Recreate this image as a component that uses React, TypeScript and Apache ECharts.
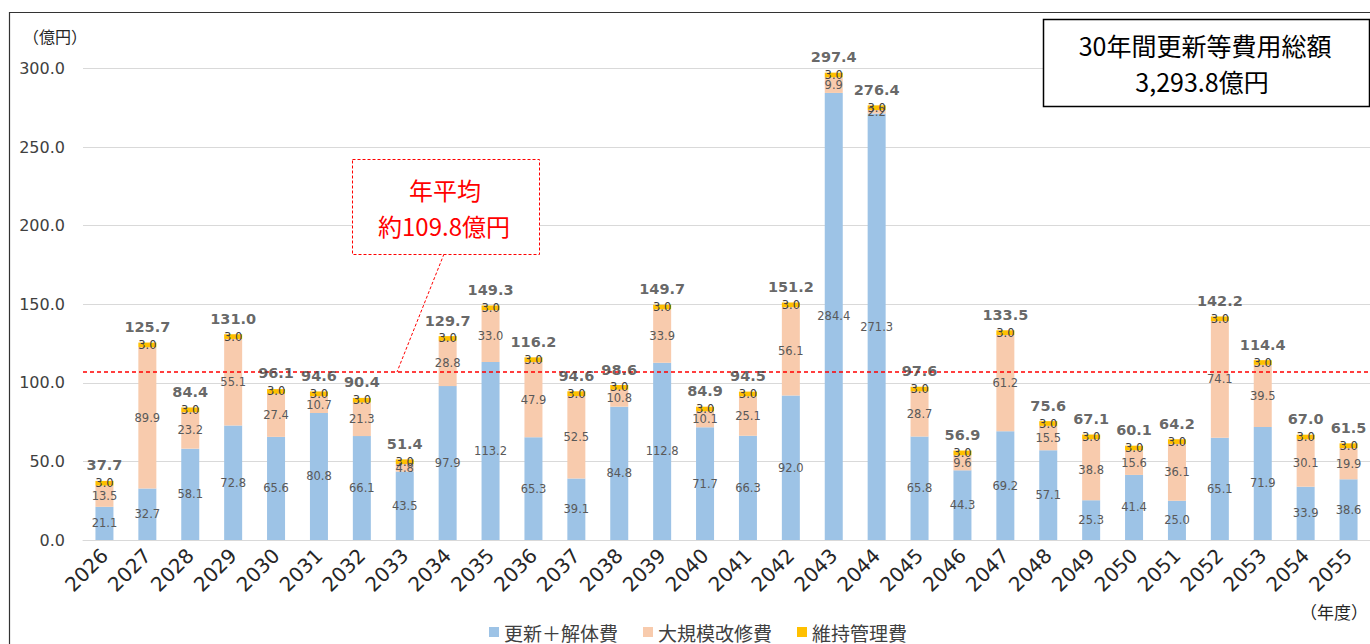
import React, { useEffect, useRef } from "react";
import * as echarts from "echarts";

const years = [
  "2026", "2027", "2028", "2029", "2030", "2031", "2032", "2033", "2034", "2035",
  "2036", "2037", "2038", "2039", "2040", "2041", "2042", "2043", "2044", "2045",
  "2046", "2047", "2048", "2049", "2050", "2051", "2052", "2053", "2054", "2055",
];
const renewal = [
  21.1, 32.7, 58.1, 72.8, 65.6, 80.8, 66.1, 43.5, 97.9, 113.2,
  65.3, 39.1, 84.8, 112.8, 71.7, 66.3, 92.0, 284.4, 271.3, 65.8,
  44.3, 69.2, 57.1, 25.3, 41.4, 25.0, 65.1, 71.9, 33.9, 38.6,
];
const repair = [
  13.5, 89.9, 23.2, 55.1, 27.4, 10.7, 21.3, 4.8, 28.8, 33.0,
  47.9, 52.5, 10.8, 33.9, 10.1, 25.1, 56.1, 9.9, 2.2, 28.7,
  9.6, 61.2, 15.5, 38.8, 15.6, 36.1, 74.1, 39.5, 30.1, 19.9,
];
const maintenance = [
  3.0, 3.0, 3.0, 3.0, 3.0, 3.0, 3.0, 3.0, 3.0, 3.0,
  3.0, 3.0, 3.0, 3.0, 3.0, 3.0, 3.0, 3.0, 3.0, 3.0,
  3.0, 3.0, 3.0, 3.0, 3.0, 3.0, 3.0, 3.0, 3.0, 3.0,
];
const totals = [
  37.7, 125.7, 84.4, 131.0, 96.1, 94.6, 90.4, 51.4, 129.7, 149.3,
  116.2, 94.6, 98.6, 149.7, 84.9, 94.5, 151.2, 297.4, 276.4, 97.6,
  56.9, 133.5, 75.6, 67.1, 60.1, 64.2, 142.2, 114.4, 67.0, 61.5,
];
const yTicks = { min: 0, max: 300, interval: 50 };
const averageLine = 107;
const seriesNames = ["更新＋解体費", "大規模改修費", "維持管理費"];
const titleLines = ["30年間更新等費用総額", "3,293.8億円"];
const avgLines = ["年平均", "約109.8億円"];

const NUM_FONT = "DejaVu Sans, Verdana, sans-serif";
const JP_FONT = "Noto Sans CJK JP, sans-serif";

export default function App() {
  const ref = useRef<HTMLDivElement>(null);

  useEffect(() => {
    if (!ref.current) return;
    const chart = echarts.init(ref.current, null, { renderer: "svg" });

    const segLabel = {
      show: true,
      position: "inside",
      fontSize: 11.5,
      fontFamily: NUM_FONT,
      color: "#595959",
      formatter: (p: any) => Number(p.value).toFixed(1),
    };

    const option: any = {
      animation: false,
      backgroundColor: "#ffffff",
      grid: { left: 83, right: 0, top: 68.4, bottom: 104, containLabel: false },
      legend: {
        data: seriesNames,
        left: 484,
        top: 616,
        itemWidth: 10,
        itemHeight: 10,
        itemGap: 25,
        icon: "rect",
        textStyle: { fontSize: 19, lineHeight: 22, color: "#404040", fontFamily: JP_FONT },
      },
      xAxis: {
        type: "category",
        data: years,
        axisTick: { show: false },
        axisLine: { show: true, lineStyle: { color: "#d9d9d9", width: 1 } },
        axisLabel: {
          rotate: 45,
          interval: 0,
          fontSize: 20,
          margin: 12,
          color: "#262626",
          fontFamily: NUM_FONT,
        },
      },
      yAxis: {
        type: "value",
        min: yTicks.min,
        max: yTicks.max,
        interval: yTicks.interval,
        axisLine: { show: false },
        axisTick: { show: false },
        splitLine: { lineStyle: { color: "#d9d9d9", width: 1 } },
        axisLabel: {
          fontSize: 16,
          margin: 18,
          color: "#404040",
          fontFamily: NUM_FONT,
          formatter: (v: number) => v.toFixed(1),
        },
      },
      series: [
        {
          name: seriesNames[0],
          type: "bar",
          stack: "total",
          barWidth: 18,
          data: renewal,
          itemStyle: { color: "#9DC3E6" },
          label: segLabel,
          markLine: {
            silent: true,
            symbol: "none",
            label: { show: false },
            lineStyle: { color: "#FF0000", type: [4, 3], width: 1.5 },
            data: [{ yAxis: averageLine }],
          },
        },
        {
          name: seriesNames[1],
          type: "bar",
          stack: "total",
          barWidth: 18,
          data: repair,
          itemStyle: { color: "#F8CBAD" },
          label: segLabel,
        },
        {
          name: seriesNames[2],
          type: "bar",
          stack: "total",
          barWidth: 18,
          data: maintenance,
          itemStyle: { color: "#FFC000" },
          label: { ...segLabel, color: "#404040" },
        },
        {
          name: "合計",
          type: "scatter",
          symbolSize: 0,
          silent: true,
          data: totals,
          z: 5,
          label: {
            show: true,
            position: "top",
            distance: 8,
            fontSize: 14.5,
            fontWeight: "bold",
            fontFamily: NUM_FONT,
            color: "#404040",
            formatter: (p: any) => Number(p.value).toFixed(1),
          },
        },
      ],
      graphic: [
        {
          type: "rect",
          silent: true,
          shape: { x: 9.5, y: 12.5, width: 1400, height: 700 },
          style: { fill: "none", stroke: "#333333", lineWidth: 1.2 },
          z: 100,
        },
        {
          type: "text",
          left: 23,
          top: 28,
          style: {
            text: "（億円）",
            fontSize: 16,
            fill: "#262626",
            fontFamily: JP_FONT,
          },
        },
        {
          type: "text",
          left: 1300,
          top: 603,
          style: {
            text: "（年度）",
            fontSize: 17,
            fill: "#262626",
            fontFamily: JP_FONT,
          },
        },
        {
          type: "rect",
          shape: { x: 1043.5, y: 19.5, width: 326, height: 87 },
          style: { fill: "#ffffff", stroke: "#000000", lineWidth: 1.5 },
          z: 50,
        },
        {
          type: "text",
          x: 1205,
          y: 45,
          z: 51,
          style: {
            text: titleLines[0],
            fontSize: 25,
            fill: "#000000",
            fontFamily: JP_FONT,
            align: "center",
            verticalAlign: "middle",
          },
        },
        {
          type: "text",
          x: 1202,
          y: 81,
          z: 51,
          style: {
            text: titleLines[1],
            fontSize: 25,
            fill: "#000000",
            fontFamily: JP_FONT,
            align: "center",
            verticalAlign: "middle",
          },
        },
        {
          type: "line",
          z: 49,
          shape: { x1: 444, y1: 254, x2: 397, y2: 372 },
          style: { stroke: "#FF0000", lineWidth: 1, lineDash: [3, 2] },
        },
        {
          type: "rect",
          z: 50,
          shape: { x: 352.5, y: 159.5, width: 187, height: 95 },
          style: { fill: "#ffffff", stroke: "#FF0000", lineWidth: 1, lineDash: [3, 2] },
        },
        {
          type: "text",
          x: 445,
          y: 189,
          z: 51,
          style: {
            text: avgLines[0],
            fontSize: 24,
            fill: "#FF0000",
            fontFamily: JP_FONT,
            align: "center",
            verticalAlign: "middle",
          },
        },
        {
          type: "text",
          x: 444,
          y: 225,
          z: 51,
          style: {
            text: avgLines[1],
            fontSize: 24,
            fill: "#FF0000",
            fontFamily: JP_FONT,
            align: "center",
            verticalAlign: "middle",
          },
        },
      ],
    };

    chart.setOption(option);
    return () => chart.dispose();
  }, []);

  return (
    <div
      ref={ref}
      style={{ position: "absolute", left: 0, top: 0, width: 1370, height: 644 }}
    />
  );
}
